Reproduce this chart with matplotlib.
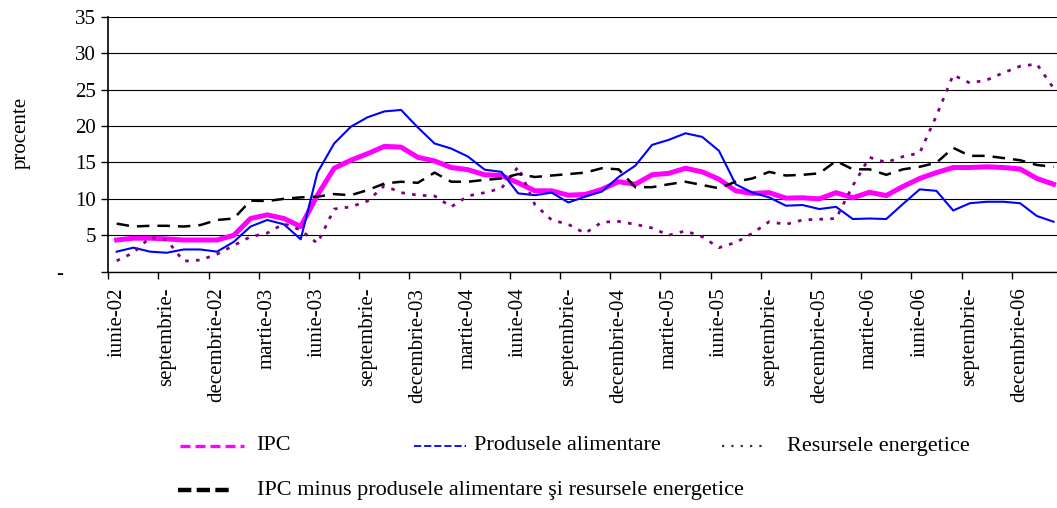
import numpy as np
import matplotlib
matplotlib.use('Agg')
import matplotlib.pyplot as plt
from matplotlib.lines import Line2D

plt.rcParams['font.family'] = ['Liberation Serif', 'DejaVu Serif']

# ── Date lunare: iunie 2002 – februarie 2007 (procente, an/an) ──
ipc = [4.35, 4.6, 4.6, 4.5, 4.35, 4.35, 4.35, 5.0, 7.3, 7.8,
       7.3, 6.2, 10.5, 14.2, 15.3, 16.2, 17.2, 17.1, 15.7, 15.2,
       14.3, 14.0, 13.3, 13.2, 12.2, 11.1, 11.1, 10.5, 10.6, 11.3,
       12.35, 12.0, 13.3, 13.5, 14.2, 13.7, 12.7, 11.1, 10.75, 10.85,
       10.1, 10.15, 10.0, 10.85, 10.15, 10.9, 10.45, 11.7, 12.8, 13.6,
       14.3, 14.3, 14.4, 14.3, 14.1, 12.8, 12.0]
alimentare = [2.75, 3.3, 2.75, 2.6, 3.05, 3.05, 2.75, 4.1, 6.2, 7.1,
              6.5, 4.45, 13.6, 17.6, 19.9, 21.2, 22.0, 22.2, 19.8, 17.6,
              16.9, 15.8, 14.0, 13.7, 10.75, 10.5, 10.85, 9.5, 10.3, 11.0,
              13.0, 14.55, 17.4, 18.1, 19.0, 18.5, 16.6, 12.0, 10.85, 10.2,
              9.06, 9.15, 8.6, 8.9, 7.23, 7.3, 7.23, 9.3, 11.3, 11.1,
              8.4, 9.4, 9.6, 9.6, 9.4, 7.65, 6.86]
energetice = [1.5, 2.6, 4.7, 4.35, 1.45, 1.6, 2.4, 3.6, 4.8, 5.3,
              6.6, 5.7, 3.9, 8.6, 8.9, 9.7, 11.8, 10.85, 10.5, 10.4,
              8.9, 10.4, 10.85, 11.45, 14.4, 9.2, 7.1, 6.5, 5.27, 6.8,
              6.9, 6.5, 6.0, 5.0, 5.6, 4.8, 3.3, 4.0, 5.27, 6.86,
              6.5, 7.1, 7.2, 7.3, 11.8, 15.7, 15.0, 15.8, 16.3, 21.4,
              27.0, 25.9, 26.3, 27.3, 28.2, 28.5, 25.2]
ipc_baza = [6.6, 6.2, 6.3, 6.3, 6.2, 6.4, 7.1, 7.3, 9.75, 9.7,
            10.0, 10.2, 10.3, 10.65, 10.5, 11.2, 12.1, 12.35, 12.2, 13.6,
            12.35, 12.35, 12.6, 12.8, 13.4, 13.0, 13.2, 13.4, 13.6, 14.2,
            14.05, 11.6, 11.6, 12.0, 12.35, 11.9, 11.45, 12.35, 12.8, 13.7,
            13.2, 13.3, 13.5, 15.2, 14.05, 14.05, 13.3, 14.05, 14.4, 14.95,
            17.0, 15.9, 15.9, 15.6, 15.3, 14.65, 14.4]

etichete_luni = ['iunie-02', 'septembrie-', 'decembrie-02', 'martie-03',
                 'iunie-03', 'septembrie-', 'decembrie-03', 'martie-04',
                 'iunie-04', 'septembrie-', 'decembrie-04', 'martie-05',
                 'iunie-05', 'septembrie-', 'decembrie-05', 'martie-06',
                 'iunie-06', 'septembrie-', 'decembrie-06']
valori_y = [0, 5, 10, 15, 20, 25, 30, 35]
etichete_y = ['-      ', '5', '10', '15', '20', '25', '30', '35']

W, H = 1057, 508
fig = plt.figure(figsize=(W / 100, H / 100), dpi=100)
fig.patch.set_facecolor('white')

# zona graficului, în pixeli
x0, x1, y_sus, y_jos = 108.3, 1057, 16.7, 271.7
ax = fig.add_axes([x0 / W, 1 - y_jos / H, (x1 - x0) / W, (y_jos - y_sus) / H])

luni = np.arange(len(ipc))
ax.plot(luni, ipc, color='#FF00FF', lw=3.6, solid_joinstyle='round', zorder=3)
ax.plot(luni, alimentare, color='#0000FF', lw=1.5, zorder=4)
ax.plot(luni, energetice, color='#800080', lw=2.0, linestyle=(0, (1.3, 2.6)), zorder=4)
ax.plot(luni, ipc_baza, color='black', lw=1.8, linestyle=(0, (5.0, 3.2)), zorder=5)

ax.set_xlim(-0.5, -0.5 + (x1 - x0) / 16.73)
ax.set_ylim(0, 35)

# axa y: linii orizontale la fiecare 5 procente
ax.set_yticks(valori_y, labels=etichete_y, fontsize=15)
ax.yaxis.grid(True, color='black', lw=0.8)
ax.set_axisbelow(True)
ax.tick_params(axis='y', direction='out', length=5, width=1, pad=4)

# axa x: liniuţe între categorii, etichete la fiecare trimestru
ax.set_xticks(np.arange(-0.5, luni[-1], 3))
ax.set_xticklabels([])
ax.set_xticks(luni[::3], labels=etichete_luni, minor=True)
ax.tick_params(axis='x', which='major', direction='out', length=5, width=1)
ax.tick_params(axis='x', which='minor', length=0, pad=11.5, labelsize=15,
               labelrotation=90)

for s in ['top', 'right']:
    ax.spines[s].set_visible(False)
ax.spines['left'].set_linewidth(1.2)
ax.spines['bottom'].set_linewidth(1.0)

fig.text(21 / W, 1 - 133 / H, 'procente', rotation=90, ha='center',
         va='center', fontsize=15)

# ── Legenda, desenată manual pe două rânduri ──
def cheie(xa, xb, y, **stil):
    fig.add_artist(Line2D([xa / W, xb / W], [1 - y / H, 1 - y / H],
                          transform=fig.transFigure, **stil))

def text_legenda(x, y, s):
    fig.text(x / W, 1 - y / H, s, ha='left', va='center', fontsize=16)

r1, r2 = 446, 490
cheie(180, 244, r1, color='#FF00FF', lw=2.4, linestyle=(0, (3, 1.5)))
text_legenda(256, r1, 'IPC')
cheie(414, 466, r1, color='#0000FF', lw=1.3, linestyle=(0, (4, 1.6)))
text_legenda(474, r1, 'Produsele alimentare')
cheie(722, 765, r1, color='#333333', lw=1.6, linestyle=(0, (1, 3.2)))
text_legenda(787, r1, 'Resursele energetice')
cheie(178, 233, r2, color='black', lw=3.2, linestyle=(0, (3, 1.2)))
text_legenda(257, r2, 'IPC minus produsele alimentare şi resursele energetice')

fig.savefig('out.png', dpi=100, facecolor='white')
